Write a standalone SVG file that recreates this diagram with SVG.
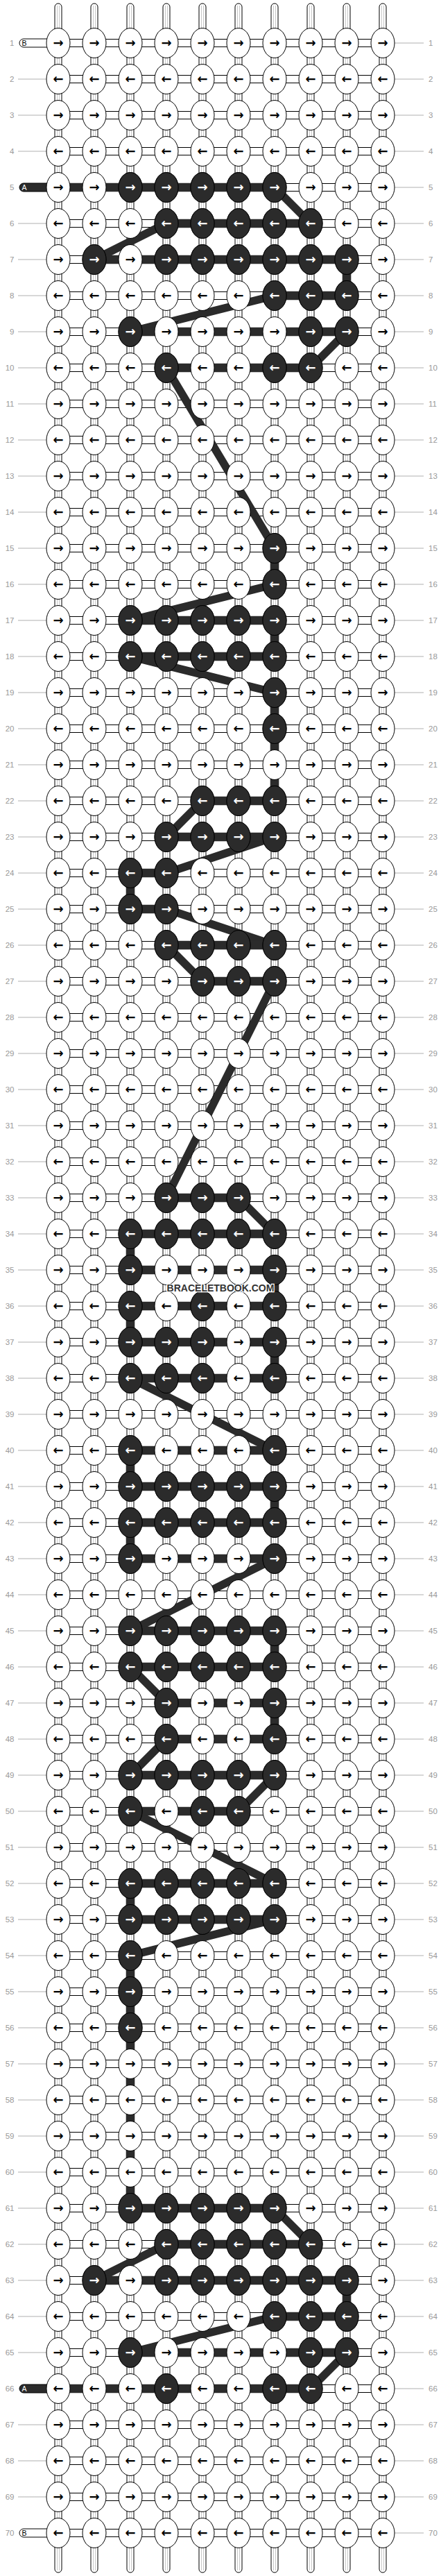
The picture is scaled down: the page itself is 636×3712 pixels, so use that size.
<svg xmlns="http://www.w3.org/2000/svg" width="636" height="3712" viewBox="0 0 636 3712">
<style>
.k{fill:#fff;stroke:#000;stroke-width:1}
.kd{fill:#2b2b2b;stroke:#000;stroke-width:1}
.a{font-family:"DejaVu Sans",sans-serif;font-weight:bold;font-size:18px;text-anchor:middle;fill:#000}
.aw{fill:#fff}
.t{fill:#fff;stroke:#000;stroke-width:1}
.g{fill:none;stroke:#b8b8b8;stroke-width:0.8}
.gl{fill:none;stroke:#b0b0b0;stroke-width:1}
.lb{font-family:"Liberation Sans",Arial,sans-serif;font-size:11.5px;fill:#999}
.le{text-anchor:end}
.dk{fill:none;stroke:#2b2b2b;stroke-linejoin:round}
.pl{font-family:"Liberation Sans",Arial,sans-serif;font-size:10.5px}
.wm{font-family:"Liberation Sans",Arial,sans-serif;font-size:14px;font-weight:bold;fill:#333;stroke:#fff;stroke-width:2.5;paint-order:stroke;text-anchor:middle}
</style>
<defs>
<g id="tb"><rect x="-5" y="20" width="10" height="12" class="t"/><path d="M-1.5 20V32M1.5 20V32" class="g"/></g>
<g id="st"><path d="M-5 46V10A5 5 0 0 1 5 10V46" class="t"/><path d="M-1.5 8V46M1.5 8V46" class="g"/></g>
<g id="hc"><rect x="99" y="-5.5" width="22" height="11" class="t"/><rect x="151" y="-5.5" width="22" height="11" class="t"/><rect x="203" y="-5.5" width="22" height="11" class="t"/><rect x="255" y="-5.5" width="22" height="11" class="t"/><rect x="307" y="-5.5" width="22" height="11" class="t"/><rect x="359" y="-5.5" width="22" height="11" class="t"/><rect x="411" y="-5.5" width="22" height="11" class="t"/><rect x="463" y="-5.5" width="22" height="11" class="t"/><rect x="515" y="-5.5" width="22" height="11" class="t"/></g>
<g id="vt"><use href="#tb" x="84"/><use href="#tb" x="136"/><use href="#tb" x="188"/><use href="#tb" x="240"/><use href="#tb" x="292"/><use href="#tb" x="344"/><use href="#tb" x="396"/><use href="#tb" x="448"/><use href="#tb" x="500"/><use href="#tb" x="552"/></g>
<path id="ll" d="M26 0H67" class="gl"/>
<path id="rl" d="M569 0H611" class="gl"/>
<g id="c"><use href="#ll"/><use href="#rl"/><use href="#hc"/><use href="#vt"/></g>
<g id="cp"><use href="#rl"/><use href="#hc"/><use href="#vt"/></g>
<g id="c70"><use href="#rl"/><use href="#hc"/></g>
<g id="kr"><ellipse rx="17" ry="21.5" class="k"/><text class="a" y="6">→</text></g>
<g id="kl"><ellipse rx="17" ry="21.5" class="k"/><text class="a" y="6">←</text></g>
<g id="dr"><ellipse rx="17" ry="21.5" class="kd"/><text class="a aw" y="6">→</text></g>
<g id="dl"><ellipse rx="17" ry="21.5" class="kd"/><text class="a aw" y="6">←</text></g>
<g id="kR"><use href="#kr" x="84"/><use href="#kr" x="136"/><use href="#kr" x="188"/><use href="#kr" x="240"/><use href="#kr" x="292"/><use href="#kr" x="344"/><use href="#kr" x="396"/><use href="#kr" x="448"/><use href="#kr" x="500"/><use href="#kr" x="552"/></g>
<g id="kL"><use href="#kl" x="84"/><use href="#kl" x="136"/><use href="#kl" x="188"/><use href="#kl" x="240"/><use href="#kl" x="292"/><use href="#kl" x="344"/><use href="#kl" x="396"/><use href="#kl" x="448"/><use href="#kl" x="500"/><use href="#kl" x="552"/></g>
</defs>
<rect width="636" height="3712" fill="#fff"/>
<g id="strings">
<use href="#st" x="84"/><use href="#st" x="136"/><use href="#st" x="188"/><use href="#st" x="240"/><use href="#st" x="292"/><use href="#st" x="344"/><use href="#st" x="396"/><use href="#st" x="448"/><use href="#st" x="500"/><use href="#st" x="552"/>
<use href="#st" transform="translate(84 3712) scale(1 -1)"/><use href="#st" transform="translate(136 3712) scale(1 -1)"/><use href="#st" transform="translate(188 3712) scale(1 -1)"/><use href="#st" transform="translate(240 3712) scale(1 -1)"/><use href="#st" transform="translate(292 3712) scale(1 -1)"/><use href="#st" transform="translate(344 3712) scale(1 -1)"/><use href="#st" transform="translate(396 3712) scale(1 -1)"/><use href="#st" transform="translate(448 3712) scale(1 -1)"/><use href="#st" transform="translate(500 3712) scale(1 -1)"/><use href="#st" transform="translate(552 3712) scale(1 -1)"/>
</g>
<g id="connectors">
<use href="#cp" y="62"/><use href="#c" y="114"/><use href="#c" y="166"/><use href="#c" y="218"/><use href="#cp" y="270"/><use href="#c" y="322"/><use href="#c" y="374"/><use href="#c" y="426"/><use href="#c" y="478"/><use href="#c" y="530"/>
<use href="#c" y="582"/><use href="#c" y="634"/><use href="#c" y="686"/><use href="#c" y="738"/><use href="#c" y="790"/><use href="#c" y="842"/><use href="#c" y="894"/><use href="#c" y="946"/><use href="#c" y="998"/><use href="#c" y="1050"/>
<use href="#c" y="1102"/><use href="#c" y="1154"/><use href="#c" y="1206"/><use href="#c" y="1258"/><use href="#c" y="1310"/><use href="#c" y="1362"/><use href="#c" y="1414"/><use href="#c" y="1466"/><use href="#c" y="1518"/><use href="#c" y="1570"/>
<use href="#c" y="1622"/><use href="#c" y="1674"/><use href="#c" y="1726"/><use href="#c" y="1778"/><use href="#c" y="1830"/><use href="#c" y="1882"/><use href="#c" y="1934"/><use href="#c" y="1986"/><use href="#c" y="2038"/><use href="#c" y="2090"/>
<use href="#c" y="2142"/><use href="#c" y="2194"/><use href="#c" y="2246"/><use href="#c" y="2298"/><use href="#c" y="2350"/><use href="#c" y="2402"/><use href="#c" y="2454"/><use href="#c" y="2506"/><use href="#c" y="2558"/><use href="#c" y="2610"/>
<use href="#c" y="2662"/><use href="#c" y="2714"/><use href="#c" y="2766"/><use href="#c" y="2818"/><use href="#c" y="2870"/><use href="#c" y="2922"/><use href="#c" y="2974"/><use href="#c" y="3026"/><use href="#c" y="3078"/><use href="#c" y="3130"/>
<use href="#c" y="3182"/><use href="#c" y="3234"/><use href="#c" y="3286"/><use href="#c" y="3338"/><use href="#c" y="3390"/><use href="#cp" y="3442"/><use href="#c" y="3494"/><use href="#c" y="3546"/><use href="#c" y="3598"/><use href="#c70" y="3650"/>
</g>
<g id="pill-B-top"><path d="M70 56H34A6 6 0 0 0 34 68H70Z" fill="#fff" stroke="#000"/><text class="pl" x="31.5" y="66" fill="#000">B</text></g>
<g id="pill-A-top"><path d="M70 264H34A6 6 0 0 0 34 276H70Z" fill="#2b2b2b" stroke="#000"/><text class="pl" x="31.5" y="274" fill="#fff">A</text></g>
<g id="pill-A-bottom"><path d="M70 3436H34A6 6 0 0 0 34 3448H70Z" fill="#2b2b2b" stroke="#000"/><text class="pl" x="31.5" y="3446" fill="#fff">A</text></g>
<g id="pill-B-bottom"><path d="M70 3644H34A6 6 0 0 0 34 3656H70Z" fill="#fff" stroke="#000"/><text class="pl" x="31.5" y="3654" fill="#000">B</text></g>
<g id="string-A-path">
<path class="dk" stroke-width="11.5" d="M70 270H396L448 322H240L136 374H500V426H396L188 478H500L448 530H240L396 790V842L188 894H396V946H188L396 998V1154H292L240 1206H396L240 1258H188V1310H240L396 1362H240L292 1414H396L240 1726H344L396 1778H188V1830H396V1882H188V1934H396V1986H188L396 2090H188V2142H396V2194H188V2246H396L188 2350H396V2402H188L240 2454H396V2506H240L188 2558H396L344 2610H188L396 2714H188V2766H396L188 2818V3182H396L448 3234H240L136 3286H500V3338H396L188 3390H500L448 3442H70"/>
<path class="dk" stroke-width="12.6" d="M70 270H396M448 322H240M136 374H500V426H396M188 478H500M448 530H240M396 790V842M188 894H396V946H188M396 998V1154H292M240 1206H396M240 1258H188V1310H240M396 1362H240M292 1414H396M240 1726H344M396 1778H188V1830H396V1882H188V1934H396V1986H188M396 2090H188V2142H396V2194H188V2246H396M188 2350H396V2402H188M240 2454H396V2506H240M188 2558H396M344 2610H188M396 2714H188V2766H396M188 2818V3182H396M448 3234H240M136 3286H500V3338H396M188 3390H500M448 3442H70"/>
</g>
<g id="knots">
<use href="#kR" y="62"/><use href="#kL" y="114"/><use href="#kR" y="166"/><use href="#kL" y="218"/><use href="#kR" y="270"/><use href="#kL" y="322"/><use href="#kR" y="374"/><use href="#kL" y="426"/><use href="#kR" y="478"/><use href="#kL" y="530"/>
<use href="#kR" y="582"/><use href="#kL" y="634"/><use href="#kR" y="686"/><use href="#kL" y="738"/><use href="#kR" y="790"/><use href="#kL" y="842"/><use href="#kR" y="894"/><use href="#kL" y="946"/><use href="#kR" y="998"/><use href="#kL" y="1050"/>
<use href="#kR" y="1102"/><use href="#kL" y="1154"/><use href="#kR" y="1206"/><use href="#kL" y="1258"/><use href="#kR" y="1310"/><use href="#kL" y="1362"/><use href="#kR" y="1414"/><use href="#kL" y="1466"/><use href="#kR" y="1518"/><use href="#kL" y="1570"/>
<use href="#kR" y="1622"/><use href="#kL" y="1674"/><use href="#kR" y="1726"/><use href="#kL" y="1778"/><use href="#kR" y="1830"/><use href="#kL" y="1882"/><use href="#kR" y="1934"/><use href="#kL" y="1986"/><use href="#kR" y="2038"/><use href="#kL" y="2090"/>
<use href="#kR" y="2142"/><use href="#kL" y="2194"/><use href="#kR" y="2246"/><use href="#kL" y="2298"/><use href="#kR" y="2350"/><use href="#kL" y="2402"/><use href="#kR" y="2454"/><use href="#kL" y="2506"/><use href="#kR" y="2558"/><use href="#kL" y="2610"/>
<use href="#kR" y="2662"/><use href="#kL" y="2714"/><use href="#kR" y="2766"/><use href="#kL" y="2818"/><use href="#kR" y="2870"/><use href="#kL" y="2922"/><use href="#kR" y="2974"/><use href="#kL" y="3026"/><use href="#kR" y="3078"/><use href="#kL" y="3130"/>
<use href="#kR" y="3182"/><use href="#kL" y="3234"/><use href="#kR" y="3286"/><use href="#kL" y="3338"/><use href="#kR" y="3390"/><use href="#kL" y="3442"/><use href="#kR" y="3494"/><use href="#kL" y="3546"/><use href="#kR" y="3598"/><use href="#kL" y="3650"/>
</g>
<g id="dark-knots">
<g id="dk-r5" transform="translate(0 270)"><use href="#dr" x="188"/><use href="#dr" x="240"/><use href="#dr" x="292"/><use href="#dr" x="344"/><use href="#dr" x="396"/></g>
<g id="dk-r6" transform="translate(0 322)"><use href="#dl" x="240"/><use href="#dl" x="292"/><use href="#dl" x="344"/><use href="#dl" x="396"/><use href="#dl" x="448"/></g>
<g id="dk-r7" transform="translate(0 374)"><use href="#dr" x="136"/><use href="#dr" x="240"/><use href="#dr" x="292"/><use href="#dr" x="344"/><use href="#dr" x="396"/><use href="#dr" x="448"/><use href="#dr" x="500"/></g>
<g id="dk-r8" transform="translate(0 426)"><use href="#dl" x="396"/><use href="#dl" x="448"/><use href="#dl" x="500"/></g>
<g id="dk-r9" transform="translate(0 478)"><use href="#dr" x="188"/><use href="#dr" x="448"/><use href="#dr" x="500"/></g>
<g id="dk-r10" transform="translate(0 530)"><use href="#dl" x="240"/><use href="#dl" x="396"/><use href="#dl" x="448"/></g>
<g id="dk-r15" transform="translate(0 790)"><use href="#dr" x="396"/></g>
<g id="dk-r16" transform="translate(0 842)"><use href="#dl" x="396"/></g>
<g id="dk-r17" transform="translate(0 894)"><use href="#dr" x="188"/><use href="#dr" x="240"/><use href="#dr" x="292"/><use href="#dr" x="344"/><use href="#dr" x="396"/></g>
<g id="dk-r18" transform="translate(0 946)"><use href="#dl" x="188"/><use href="#dl" x="240"/><use href="#dl" x="292"/><use href="#dl" x="344"/><use href="#dl" x="396"/></g>
<g id="dk-r19" transform="translate(0 998)"><use href="#dr" x="396"/></g>
<g id="dk-r20" transform="translate(0 1050)"><use href="#dl" x="396"/></g>
<g id="dk-r22" transform="translate(0 1154)"><use href="#dl" x="292"/><use href="#dl" x="344"/><use href="#dl" x="396"/></g>
<g id="dk-r23" transform="translate(0 1206)"><use href="#dr" x="240"/><use href="#dr" x="292"/><use href="#dr" x="344"/><use href="#dr" x="396"/></g>
<g id="dk-r24" transform="translate(0 1258)"><use href="#dl" x="188"/><use href="#dl" x="240"/></g>
<g id="dk-r25" transform="translate(0 1310)"><use href="#dr" x="188"/><use href="#dr" x="240"/></g>
<g id="dk-r26" transform="translate(0 1362)"><use href="#dl" x="240"/><use href="#dl" x="292"/><use href="#dl" x="344"/><use href="#dl" x="396"/></g>
<g id="dk-r27" transform="translate(0 1414)"><use href="#dr" x="292"/><use href="#dr" x="344"/><use href="#dr" x="396"/></g>
<g id="dk-r33" transform="translate(0 1726)"><use href="#dr" x="240"/><use href="#dr" x="292"/><use href="#dr" x="344"/></g>
<g id="dk-r34" transform="translate(0 1778)"><use href="#dl" x="188"/><use href="#dl" x="240"/><use href="#dl" x="292"/><use href="#dl" x="344"/><use href="#dl" x="396"/></g>
<g id="dk-r35" transform="translate(0 1830)"><use href="#dr" x="188"/><use href="#dr" x="396"/></g>
<g id="dk-r36" transform="translate(0 1882)"><use href="#dl" x="188"/><use href="#dl" x="292"/><use href="#dl" x="396"/></g>
<g id="dk-r37" transform="translate(0 1934)"><use href="#dr" x="188"/><use href="#dr" x="240"/><use href="#dr" x="292"/><use href="#dr" x="396"/></g>
<g id="dk-r38" transform="translate(0 1986)"><use href="#dl" x="188"/><use href="#dl" x="240"/><use href="#dl" x="292"/><use href="#dl" x="396"/></g>
<g id="dk-r40" transform="translate(0 2090)"><use href="#dl" x="188"/><use href="#dl" x="396"/></g>
<g id="dk-r41" transform="translate(0 2142)"><use href="#dr" x="188"/><use href="#dr" x="240"/><use href="#dr" x="292"/><use href="#dr" x="344"/><use href="#dr" x="396"/></g>
<g id="dk-r42" transform="translate(0 2194)"><use href="#dl" x="188"/><use href="#dl" x="240"/><use href="#dl" x="292"/><use href="#dl" x="344"/><use href="#dl" x="396"/></g>
<g id="dk-r43" transform="translate(0 2246)"><use href="#dr" x="188"/><use href="#dr" x="396"/></g>
<g id="dk-r45" transform="translate(0 2350)"><use href="#dr" x="188"/><use href="#dr" x="240"/><use href="#dr" x="292"/><use href="#dr" x="344"/><use href="#dr" x="396"/></g>
<g id="dk-r46" transform="translate(0 2402)"><use href="#dl" x="188"/><use href="#dl" x="240"/><use href="#dl" x="292"/><use href="#dl" x="344"/><use href="#dl" x="396"/></g>
<g id="dk-r47" transform="translate(0 2454)"><use href="#dr" x="240"/><use href="#dr" x="396"/></g>
<g id="dk-r48" transform="translate(0 2506)"><use href="#dl" x="240"/><use href="#dl" x="396"/></g>
<g id="dk-r49" transform="translate(0 2558)"><use href="#dr" x="188"/><use href="#dr" x="240"/><use href="#dr" x="292"/><use href="#dr" x="344"/><use href="#dr" x="396"/></g>
<g id="dk-r50" transform="translate(0 2610)"><use href="#dl" x="188"/><use href="#dl" x="292"/><use href="#dl" x="344"/></g>
<g id="dk-r52" transform="translate(0 2714)"><use href="#dl" x="188"/><use href="#dl" x="240"/><use href="#dl" x="292"/><use href="#dl" x="344"/><use href="#dl" x="396"/></g>
<g id="dk-r53" transform="translate(0 2766)"><use href="#dr" x="188"/><use href="#dr" x="240"/><use href="#dr" x="292"/><use href="#dr" x="344"/><use href="#dr" x="396"/></g>
<g id="dk-r54" transform="translate(0 2818)"><use href="#dl" x="188"/></g>
<g id="dk-r55" transform="translate(0 2870)"><use href="#dr" x="188"/></g>
<g id="dk-r56" transform="translate(0 2922)"><use href="#dl" x="188"/></g>
<g id="dk-r61" transform="translate(0 3182)"><use href="#dr" x="188"/><use href="#dr" x="240"/><use href="#dr" x="292"/><use href="#dr" x="344"/><use href="#dr" x="396"/></g>
<g id="dk-r62" transform="translate(0 3234)"><use href="#dl" x="240"/><use href="#dl" x="292"/><use href="#dl" x="344"/><use href="#dl" x="396"/><use href="#dl" x="448"/></g>
<g id="dk-r63" transform="translate(0 3286)"><use href="#dr" x="136"/><use href="#dr" x="240"/><use href="#dr" x="292"/><use href="#dr" x="344"/><use href="#dr" x="396"/><use href="#dr" x="448"/><use href="#dr" x="500"/></g>
<g id="dk-r64" transform="translate(0 3338)"><use href="#dl" x="396"/><use href="#dl" x="448"/><use href="#dl" x="500"/></g>
<g id="dk-r65" transform="translate(0 3390)"><use href="#dr" x="188"/><use href="#dr" x="448"/><use href="#dr" x="500"/></g>
<g id="dk-r66" transform="translate(0 3442)"><use href="#dl" x="240"/><use href="#dl" x="396"/><use href="#dl" x="448"/></g>
</g>
<g id="labels-left" class="lb le">
<text x="20.5" y="66">1</text><text x="20.5" y="118">2</text><text x="20.5" y="170">3</text><text x="20.5" y="222">4</text><text x="20.5" y="274">5</text><text x="20.5" y="326">6</text><text x="20.5" y="378">7</text><text x="20.5" y="430">8</text><text x="20.5" y="482">9</text><text x="20.5" y="534">10</text>
<text x="20.5" y="586">11</text><text x="20.5" y="638">12</text><text x="20.5" y="690">13</text><text x="20.5" y="742">14</text><text x="20.5" y="794">15</text><text x="20.5" y="846">16</text><text x="20.5" y="898">17</text><text x="20.5" y="950">18</text><text x="20.5" y="1002">19</text><text x="20.5" y="1054">20</text>
<text x="20.5" y="1106">21</text><text x="20.5" y="1158">22</text><text x="20.5" y="1210">23</text><text x="20.5" y="1262">24</text><text x="20.5" y="1314">25</text><text x="20.5" y="1366">26</text><text x="20.5" y="1418">27</text><text x="20.5" y="1470">28</text><text x="20.5" y="1522">29</text><text x="20.5" y="1574">30</text>
<text x="20.5" y="1626">31</text><text x="20.5" y="1678">32</text><text x="20.5" y="1730">33</text><text x="20.5" y="1782">34</text><text x="20.5" y="1834">35</text><text x="20.5" y="1886">36</text><text x="20.5" y="1938">37</text><text x="20.5" y="1990">38</text><text x="20.5" y="2042">39</text><text x="20.5" y="2094">40</text>
<text x="20.5" y="2146">41</text><text x="20.5" y="2198">42</text><text x="20.5" y="2250">43</text><text x="20.5" y="2302">44</text><text x="20.5" y="2354">45</text><text x="20.5" y="2406">46</text><text x="20.5" y="2458">47</text><text x="20.5" y="2510">48</text><text x="20.5" y="2562">49</text><text x="20.5" y="2614">50</text>
<text x="20.5" y="2666">51</text><text x="20.5" y="2718">52</text><text x="20.5" y="2770">53</text><text x="20.5" y="2822">54</text><text x="20.5" y="2874">55</text><text x="20.5" y="2926">56</text><text x="20.5" y="2978">57</text><text x="20.5" y="3030">58</text><text x="20.5" y="3082">59</text><text x="20.5" y="3134">60</text>
<text x="20.5" y="3186">61</text><text x="20.5" y="3238">62</text><text x="20.5" y="3290">63</text><text x="20.5" y="3342">64</text><text x="20.5" y="3394">65</text><text x="20.5" y="3446">66</text><text x="20.5" y="3498">67</text><text x="20.5" y="3550">68</text><text x="20.5" y="3602">69</text><text x="20.5" y="3654">70</text>
</g>
<g id="labels-right" class="lb">
<text x="618" y="66">1</text><text x="618" y="118">2</text><text x="618" y="170">3</text><text x="618" y="222">4</text><text x="618" y="274">5</text><text x="618" y="326">6</text><text x="618" y="378">7</text><text x="618" y="430">8</text><text x="618" y="482">9</text><text x="618" y="534">10</text>
<text x="618" y="586">11</text><text x="618" y="638">12</text><text x="618" y="690">13</text><text x="618" y="742">14</text><text x="618" y="794">15</text><text x="618" y="846">16</text><text x="618" y="898">17</text><text x="618" y="950">18</text><text x="618" y="1002">19</text><text x="618" y="1054">20</text>
<text x="618" y="1106">21</text><text x="618" y="1158">22</text><text x="618" y="1210">23</text><text x="618" y="1262">24</text><text x="618" y="1314">25</text><text x="618" y="1366">26</text><text x="618" y="1418">27</text><text x="618" y="1470">28</text><text x="618" y="1522">29</text><text x="618" y="1574">30</text>
<text x="618" y="1626">31</text><text x="618" y="1678">32</text><text x="618" y="1730">33</text><text x="618" y="1782">34</text><text x="618" y="1834">35</text><text x="618" y="1886">36</text><text x="618" y="1938">37</text><text x="618" y="1990">38</text><text x="618" y="2042">39</text><text x="618" y="2094">40</text>
<text x="618" y="2146">41</text><text x="618" y="2198">42</text><text x="618" y="2250">43</text><text x="618" y="2302">44</text><text x="618" y="2354">45</text><text x="618" y="2406">46</text><text x="618" y="2458">47</text><text x="618" y="2510">48</text><text x="618" y="2562">49</text><text x="618" y="2614">50</text>
<text x="618" y="2666">51</text><text x="618" y="2718">52</text><text x="618" y="2770">53</text><text x="618" y="2822">54</text><text x="618" y="2874">55</text><text x="618" y="2926">56</text><text x="618" y="2978">57</text><text x="618" y="3030">58</text><text x="618" y="3082">59</text><text x="618" y="3134">60</text>
<text x="618" y="3186">61</text><text x="618" y="3238">62</text><text x="618" y="3290">63</text><text x="618" y="3342">64</text><text x="618" y="3394">65</text><text x="618" y="3446">66</text><text x="618" y="3498">67</text><text x="618" y="3550">68</text><text x="618" y="3602">69</text><text x="618" y="3654">70</text>
</g>
<g id="watermark"><text class="wm" x="318" y="1861">BRACELETBOOK.COM</text></g>
</svg>
